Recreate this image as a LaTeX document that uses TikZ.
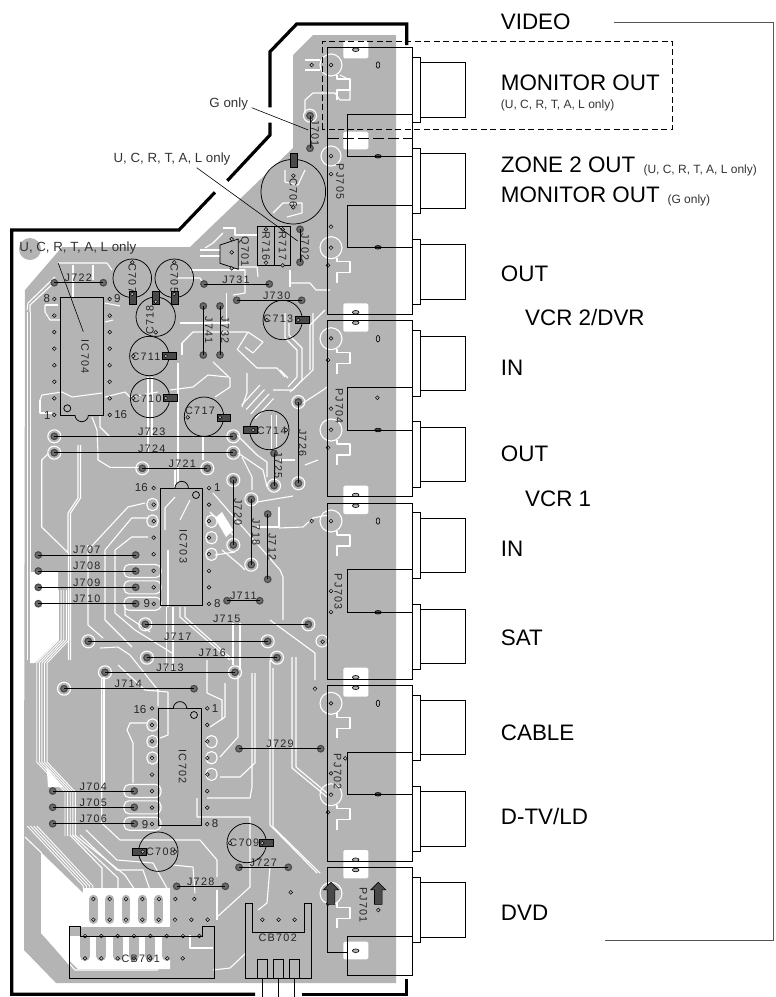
\documentclass[tikz,border=0pt]{standalone}
\usepackage{fontspec}
\setmainfont{Liberation Sans}
\newfontfamily\boardfont[LetterSpace=12]{Liberation Sans}
\usetikzlibrary{shapes.geometric}
\definecolor{boardgray}{HTML}{B4B4B4}
\definecolor{padgray}{HTML}{4A4A4A}
\definecolor{notegray}{HTML}{333333}
\definecolor{framegray}{HTML}{555555}
\newcommand{\bigsize}{\fontsize{22.4}{24}\selectfont}
\newcommand{\smallsize}{\fontsize{12}{14}\selectfont}
\begin{document}
\begin{tikzpicture}
    [x=1pt,y=-1pt,
    track/.style={white,line width=1.1pt,line join=round},
    outline/.style={black,line width=3.2pt,line join=miter},
    part/.style={black,line width=0.75pt},
    jack/.style={black,line width=0.85pt},
    hole/.style={circle,draw=black,line width=0.5pt,fill=boardgray,minimum size=3.8pt,inner sep=0pt},
    jpad/.style={circle,draw=padgray,line width=1.2pt,fill=boardgray!60!black,minimum size=6.5pt,inner sep=0pt},
    slot/.style={ellipse,draw=black,line width=0.6pt,fill=boardgray,inner sep=0pt},
    slotv/.style={slot,minimum width=3.6pt,minimum height=6.6pt},
    sloth/.style={slot,minimum width=6.6pt,minimum height=3.6pt},
    slotd/.style={slot,fill=padgray,minimum width=6.6pt,minimum height=3.6pt},
    bandv/.style={draw=black,fill=padgray,minimum width=7pt,minimum height=13.5pt,inner sep=0pt},
    bandh/.style={draw=black,fill=padgray,minimum width=13.5pt,minimum height=7pt,inner sep=0pt},
    boardtext/.style={font=\boardfont\fontsize{10.8}{12}\selectfont,inner sep=0pt,text=black!85},
    pinnum/.style={font=\fontsize{11.5}{12}\selectfont,inner sep=0pt,text=black!85},
    note/.style={font=\fontsize{13.3}{15}\selectfont,inner sep=0pt,text=notegray},
    biglabel/.style={font=\bigsize,anchor=base west,inner sep=0pt},
    smalllabel/.style={font=\smallsize,anchor=base west,inner sep=0pt,text=notegray},
    leader/.style={black,line width=0.6pt}]

    \useasboundingbox (0,0) rectangle (776,997);

    % drawing the board
    \fill[boardgray] (313,35) -- (396,35) -- (396,983) -- (56,983) -- (24,950) -- (24,837)
        -- (25,290) -- (62,247) -- (190,247) -- (293,148) -- (293,55) -- cycle;
    \fill[boardgray] (30,249) circle (11);

    % drawing the white patches
    \foreach \ya/\yb in {40.7/58.3,131.7/149.3,303.3/331.7,485.7/514,667.7/696.7,850/878.3,941.7/959.3}
        \fill[white,rounded corners=1.5pt] (343.3,\ya) rectangle (368.3,\yb);
    \fill[white] (30,572) -- (58,572) -- (58,640) -- (35,663) -- (30,663) -- cycle;
    \fill[white] (46.7,768) -- (63,787) -- (48,787) -- cycle;
    \fill[white] (41.7,853) -- (83,893) -- (83,927) -- (69,927) -- (69,965) -- (41.7,933) -- cycle;
    \fill[white] (83,888) -- (170,888) -- (170,927) -- (83,927) -- cycle;
    \fill[white] (69,936) -- (170,936) -- (170,969) -- (78,969) -- (69,960) -- cycle;
    \fill[white] (215,518) -- (222,512) -- (233,530) -- (226,537) -- cycle;

    % drawing the copper under the connectors
    \foreach \i in {0,...,5}
        \draw[boardgray,line width=8.5pt,line cap=round] ({93.3+16.35*\i},899) -- ({93.3+16.35*\i},919.7);
    \foreach \i in {0,...,5}
        \draw[boardgray,line width=10pt,line cap=round] ({85+16.35*\i},938) -- ({85+16.35*\i},956);

    % drawing the tracks on the left side
    \draw[track] (27.7,312) -- (27.7,660);
    \draw[track] (30.5,312) -- (30.5,572);
    \draw[track] (27,310) -- (28,303) -- (55,277);
    \draw[track] (30,312) -- (30,305) -- (57,280);
    \draw[track] (58,263) -- (107,263) -- (112,270);
    \draw[track] (73,265) -- (73,297);
    \draw[track] (93,265) -- (93,280);
    \draw[track] (45,305) -- (58,305);
    \draw[track] (45,305) -- (45,312) -- (50,320) -- (60,320);
    \draw[track] (105,303) -- (120,306);
    \draw[track] (105,322) -- (113,320);
    \draw[track] (40,400) -- (42,395) -- (62,392) -- (72,397) -- (102,393);
    \draw[track] (40,400) -- (40,413) -- (52,413);
    \draw[track] (105,397) -- (125,392) -- (130,397) -- (158,392);
    \draw[track] (100,415) -- (100,427) -- (110,437);
    \draw[track] (92,417) -- (97,430) -- (98,453) -- (98,460) -- (110,467.3) -- (140,467.3);
    \draw[track] (41.7,460) -- (41.7,527) -- (68.3,553) -- (68.3,660);
    \draw[track] (41.7,460) -- (48,454);
    \draw[track] (78,445) -- (78,498) -- (68,513) -- (68,553);
    \draw[track] (80.5,445) -- (80.5,498) -- (70.5,513) -- (70.5,660);
    \draw[track] (88,545) -- (88,550) -- (128,507) -- (145,503);
    \draw[track] (88,545) -- (88,625) -- (103,638);
    \draw[track] (105,550) -- (105,620) -- (132,647);
    \draw[track] (105,550) -- (131.7,518) -- (148,518);
    \draw[track] (115,550) -- (115,613) -- (135,630) -- (172,653);
    \draw[track] (115,550) -- (131.7,537) -- (148,537);
    \foreach \i in {0,...,4}
        \draw[track,line width=0.9pt] ({58.5+2.6*\i},590) -- ({58.5+2.6*\i},640) -- ({36.7+2.6*\i},663)
            -- ({36.7+2.6*\i},762) -- ({65+2.6*\i},792) -- ({65+2.6*\i},836);
    \foreach \i in {0,...,3}
        \draw[track,line width=0.9pt] ({27.3+3.2*\i},826) -- ({83.3+3.2*\i},886) -- ({83.3+3.2*\i},893);
    \draw[track] (70,835) -- (102,868) -- (102,890);
    \draw[track] (72.5,835) -- (118,878) -- (118,890);
    \draw[track] (75,835) -- (125,875) -- (135,890);
    \draw[track] (80,835) -- (117,870) -- (143,870) -- (150,890);
    \draw[track] (86,830) -- (117,860) -- (153,863) -- (168,890);
    \draw[track] (25,837) -- (41.7,853) -- (41.7,933) -- (75,970) -- (157,970) -- (165,962);
    \draw[track] (101.7,677) -- (101.7,823) -- (120,840);
    \draw[track] (104,677) -- (104,787);
    \draw[track] (127,730) -- (130,723) -- (147,723);
    \draw[track] (127,730) -- (133,743) -- (133,783);
    \draw[track] (120,840) -- (200,840) -- (217,860) -- (217,877);
    \draw[track] (125,605) -- (125,615) -- (150,632);
    \draw[track] (100,648) -- (118,647) -- (130,655) -- (158,690) -- (158,706);
    \draw[track] (118,665) -- (145,690) -- (168,692) -- (168,735) -- (160,738);

    % drawing the tracks in the middle
    \draw[track] (148,377) -- (148,453);
    \draw[track] (152,377) -- (152,437);
    \draw[track] (178,363) -- (178,487);
    \draw[track] (182,343) -- (182,355);
    \draw[track] (175,470) -- (175,487);
    \draw[track] (203,437) -- (203,460);
    \draw[track] (180,323) -- (230,323);
    \draw[track] (190,270) -- (245,270);
    \draw[track] (178,278) -- (200,278) -- (204,285);
    \draw[track] (226.7,293) -- (226.7,323);
    \draw[track] (223,228) -- (235,228) -- (235,235) -- (257,235);
    \draw[track] (205,248) -- (213,243) -- (223,233);
    \draw[track] (200,250) -- (220,250);
    \draw[track] (200,256) -- (220,256);
    \draw[track] (238,267) -- (257,267) -- (258,277);
    \draw[track] (195,270) -- (245,270) -- (245,293) -- (233,295);
    \draw[track] (247,332) -- (193,332) -- (182,343);
    \draw[track] (237,350) -- (248,332) -- (263,342) -- (253,353) -- (245,347);
    \draw[track] (238,350) -- (257,368) -- (277,368) -- (285,377);
    \draw[track] (280,370) -- (288,378);
    \draw[track] (213,362) -- (230,378) -- (230,387) -- (215,397);
    \draw[track] (208,375) -- (193,387) -- (170,390);
    \draw[track] (208,375) -- (228,377);
    \draw[track] (247,373) -- (247,393) -- (242,407);
    \foreach \i in {0,...,3}
        \draw[track] ({241.7+4.5*\i},{405+4.5*\i}) -- ({260+4.5*\i},{385+4.5*\i});
    \draw[track] (285,313) -- (285,338) -- (297,350) -- (297,377) -- (288,387);
    \draw[track] (289,323) -- (289,335) -- (302,348) -- (302,380) -- (293,390) -- (273,390);
    \draw[track] (313,313) -- (313,370) -- (290,392);
    \draw[track] (325,310) -- (310,325) -- (310,370);
    \draw[track] (290,270) -- (290,287);
    \draw[track] (290,283) -- (310,283) -- (316,290) -- (330,290);
    \draw[track] (303,403) -- (323,390) -- (327,387);
    \draw[track] (271.7,415) -- (271.7,450);
    \draw[track] (276.7,415) -- (276.7,447);
    \draw[track] (237,435) -- (257,455) -- (267,462) -- (267,477);
    \draw[track] (238,453) -- (263,470) -- (267,487);
    \draw[track] (242,457) -- (252,477) -- (252,490);
    \draw[track] (305,465) -- (318,460);
    \draw[track] (280,460) -- (295,460);
    \draw[track] (293,496) -- (257,502);
    \draw[track] (279,507) -- (279,527) -- (257,527);
    \draw[track] (279,528) -- (303,527) -- (313,518) -- (328,515);
    \draw[track] (213,493) -- (280,570) -- (283,577) -- (283,620);
    \draw[track] (210,512) -- (233,535);
    \draw[track] (222,550) -- (240,565) -- (245,570);
    \draw[track] (215,555) -- (235,552);
    \draw[track] (168,550) -- (168,607);
    \draw[track] (175,497) -- (165,508) -- (165,530);
    \draw[track] (190,500) -- (180,520);
    \draw[track] (166.7,607) -- (166.7,670);
    \draw[track] (173,607) -- (173,670);
    \draw[track] (180,607) -- (180,617) -- (230,660);
    \draw[track] (185,607) -- (185,617) -- (233,660);
    \draw[track] (233,623) -- (233,665);
    \draw[track] (240,623) -- (240,670);
    \draw[track] (270,620) -- (315,653) -- (315,680);
    \draw[track] (292,657) -- (292,768) -- (327,797);
    \draw[track] (296,657) -- (296,767) -- (327,793);
    \draw[track] (273,668) -- (273,827) -- (320,873);
    \draw[track] (270,660) -- (270,825) -- (317,873);
    \draw[track] (238,675) -- (238,737) -- (220,757);
    \draw[track] (255,673) -- (255,763) -- (240,777) -- (220,777);
    \draw[track] (252,673) -- (252,787) -- (250,798) -- (207,798);
    \draw[track] (197,798) -- (197,817) -- (250,817) -- (250,887) -- (217,917);
    \draw[track] (225,683) -- (225,717) -- (210,727);
    \draw[track] (207,660) -- (207,693) -- (222,700) -- (222,720);
    \draw[track] (173,865) -- (193,867) -- (195,893);
    \draw[track] (217,890) -- (217,920);
    \draw[track] (213,970) -- (230,968) -- (246,953);
    \draw[track] (258,910) -- (267,903) -- (270,867);
    \draw[track] (190,935) -- (190,948) -- (213,948);

    % drawing the pad outlines round the jacks
    \foreach \x/\y in {331/65,331/247.7,331/338.7,331/430,331/521,331/703.3,331/794.7,331/893.3}{
        \draw[track] (\x,\y) circle (11);
        \draw[track,shift={(\x,\y)}] (6,10) -- (6,14) -- (19,14) -- (19,25) -- (6,25) -- (6,35);
    }
    \draw[track] (331,156) circle (10);
    \draw[track] (305,113) -- (305,100) -- (313,93) -- (335,93) -- (340,100) -- (350,100) -- (350,80) -- (340,75);
    \draw[track] (305,60) -- (320,60);
    \draw[track] (305,70) -- (320,70);
    \draw[track] (285,170) -- (285,182) -- (298,185) -- (305,170);
    \draw[track] (273,213) -- (283,203) -- (302,203) -- (302,213) -- (287,217);
    \draw[track] (322,641) circle (6);

    % drawing the pin outlines
    \foreach \x/\y in {132/571,132/587.3,132/603.7,132/791,132/807.3,132/823.7}
        \draw[track,rounded corners=5pt] ({\x-8},{\y-6.5}) rectangle ({\x+29},{\y+6.5});
    \foreach \x/\y in {147/504.5,147/521,147/725,147/741.5,147/758,206/741.7,206/757.7,206/774.3,206/521.3,206/537.7,206/554.3}
        \draw[track,rounded corners=5pt] (\x,{\y-6}) rectangle ({\x+11},{\y+6});

    % drawing the halos round the jumper pads
    \foreach \x/\y in {54.3/436.3,54.3/452.7,233.3/436.3,233.3/452.7,142.3/468.3,207.3/468.3,233.3/480,
        251.3/499.3,274/485.7,298.3/483.3,298.3/402,233.3/545,251.3/564.7,145.3/624.3,308.3/624.3,
        88.3/641.3,267.7/641.3,147/657.7,277/657.7,105/672.3,235/672.3,64/688.7,310/115.7}
        \draw[track] (\x,\y) circle (6.5);

    % drawing the jumpers
    \foreach \n/\xa/\ya/\xb/\yb/\lx/\ly/\rot in {
        J701/310/115.7/310/148.3/315/133.3/-90,
        J702/300/229.3/300/262.3/305/246.7/-90,
        J722/54.3/282.7/103.3/282.7/78.3/277.7/0,
        J731/204/284/269.3/284/236/279.3/0,
        J730/236.7/300.3/301.7/300.3/276.7/295.7/0,
        J741/203.3/306/203.3/355/208.7/330/-90,
        J732/220/306/220/355/225/330/-90,
        J723/54.3/436.3/233.3/436.3/151.7/431.7/0,
        J724/54.3/452.7/233.3/452.7/151.7/448.3/0,
        J721/142.3/468.3/207.3/468.3/182.3/464/0,
        J726/298.3/402/298.3/483.3/302.7/442.7/-90,
        J725/274/453.3/274/485.7/278.3/465/-90,
        J720/233.3/480/233.3/545/238/511.7/-90,
        J718/251.3/499.3/251.3/564.7/256/531.7/-90,
        J712/267.7/514/267.7/579.3/272.3/546.7/-90,
        J707/38.3/555/135.7/555/86.7/550/0,
        J708/38.3/571/135.7/571/86.7/566/0,
        J709/38.3/587.3/135.7/587.3/86.7/582.3/0,
        J710/38.3/603.7/135.7/603.7/86.7/598.7/0,
        J711/227/600.7/259.7/600.7/243.3/595.7/0,
        J715/145.3/624.3/308.3/624.3/226.7/619.3/0,
        J717/88.3/641.3/267.7/641.3/177.7/636.7/0,
        J716/147/657.7/277/657.7/212.3/652.7/0,
        J713/105/672.3/235/672.3/170/667.7/0,
        J714/64/688.7/194/688.7/128.3/684/0,
        J729/239/748.7/320.7/748.7/280/744/0,
        J704/52.7/791/134.3/791/93.3/786.3/0,
        J705/52.7/807.3/134.3/807.3/93.3/802.7/0,
        J706/52.7/823.7/134.3/823.7/93.3/819/0,
        J727/239/867.3/288.3/867.3/263.3/862.7/0,
        J728/176.7/886.3/225.3/886.3/200.7/881.7/0}{
        \node[jpad] (\n a) at (\xa,\ya) {};
        \node[jpad] (\n b) at (\xb,\yb) {};
        \draw[part,line width=0.9pt] (\n a.center) -- (\n b.center);
        \node[boardtext,rotate=\rot] (\n t) at (\lx,\ly) {\n};
    }

    % drawing the capacitors
    \foreach \n/\cx/\cy/\r/\lx/\ly/\rot in {
        C706/293.3/191.7/32.3/293.3/193/-90,
        C707/132.3/278.3/19.3/132.3/278.3/-90,
        C705/174.3/278.3/19.3/174.3/278.3/-90,
        C718/155.7/316.7/19.7/150/320/90,
        C713/282.7/320/19.7/278.3/319/0,
        C711/149.3/356/19.7/146/356.7/0,
        C710/150/398/19.7/146.7/398.3/0,
        C717/204/416.7/19.7/200/410.7/0,
        C714/269.3/430/19.7/271.7/430.7/0,
        C708/158.3/851.7/19.7/161/851.7/0,
        C709/246.7/843/19.7/244.3/843/0}{
        \node[circle,draw=black,line width=0.75pt,minimum size=2*\r pt,inner sep=0pt] (\n) at (\cx,\cy) {};
        \node[boardtext,rotate=\rot] (\n t) at (\lx,\ly) {\n};
    }
    \foreach \n/\s/\x/\y in {b706/bandv/293.3/160,b707/bandv/132.3/297.7,b718/bandv/155.7/297.7,b705/bandv/174.3/297.7,
        b713/bandh/302.3/320,b711/bandh/169/356,b710/bandh/170/398,b717/bandh/223.7/417.3,
        b714/bandh/250/430,b708/bandh/139/851.7,b709/bandh/266/843}
        \node[\s] (\n) at (\x,\y) {};

    % drawing the small parts
    \draw[part] (220,245) -- (238.3,239) -- (238.3,269.3) -- (220,263.3) -- cycle;
    \node[boardtext,rotate=-90] (Q701) at (244,251.7) {Q701};
    \draw[part] (257.7,226.7) rectangle (274,265.3);
    \draw[part] (274,226.7) rectangle (290.7,265.3);
    \node[boardtext,rotate=-90] (R716) at (266,246) {R716};
    \node[boardtext,rotate=-90] (R717) at (282.7,246) {R717};

    % drawing the chips
    \draw[part] (60.7,297.7) rectangle (103.3,415);
    \draw[part,fill=boardgray] (75,415) arc (180:0:6.7);
    \draw[part] (67.3,408.3) circle (3.5);
    \node[boardtext,rotate=-90] (IC704) at (85,356.7) {IC704};
    \draw[part] (160.7,488) rectangle (202.3,605.3);
    \draw[part,fill=boardgray] (175,488) arc (180:360:6.7);
    \draw[part] (196,495) circle (3.5);
    \node[boardtext,rotate=-90] (IC703) at (183.3,546) {IC703};
    \draw[part] (158.7,708.3) rectangle (201,825.3);
    \draw[part,fill=boardgray] (173.3,708.3) arc (180:360:6.7);
    \draw[part] (194,715) circle (3.5);
    \node[boardtext,rotate=-90] (IC702) at (182.7,766.7) {IC702};
    \foreach \i in {0,...,7}{
        \node[hole] (ua\i) at (54.3,{299+\i*16.55}) {};
        \node[hole] (ub\i) at (109.7,{299+\i*16.55}) {};
        \node[hole] (va\i) at (153.7,{488+\i*16.55}) {};
        \node[hole] (vb\i) at (209,{488+\i*16.55}) {};
        \node[hole] (wa\i) at (152,{708.3+\i*16.55}) {};
        \node[hole] (wb\i) at (207.3,{708.3+\i*16.55}) {};
    }
    \foreach \n/\t/\x/\y in {p1/8/46.7/299,p2/9/117.3/299,p3/1/47.3/415.7,p4/16/120.7/415,
        p5/16/141.3/488,p6/1/217.3/487.3,p7/9/146.7/604,p8/8/217.3/603.3,
        p9/16/140/709.3,p10/1/215/708.3,p11/9/145/824.3,p12/8/215/824}
        \node[pinnum] (\n) at (\x,\y) {\t};

    % drawing the loose holes
    \foreach \x/\y in {311.7/65,331/65,331/156,331/174,331/226.7,331/247.7,328/265.3,
        331/338.3,328/360,331/408.7,331/429.7,328/447.7,377.3/397.7,
        311.7/521,331/521,331/591,331/612,322.7/641.7,
        315/688.7,331/703.3,345.3/758.3,331/773.3,331/794.7,328/812.3,
        328/903.7,378.3/910,290.7/892.3,
        293.3/175.7,293.3/207.3,132.3/262.3,132.3/294,174.3/262.3,174.3/294,
        155.7/301.7,155.7/332.3,266.7/320,298.3/320,133.3/356,165.7/356,133.3/398,165.7/398,
        187.7/417.3,220/417.3,286/430,253.3/430,175/851.7,142.7/851.7,230/843,262.3/843,
        231.7/239,231.7/252.3,231.7/268.3,266/229.3,266/262.7,282.7/229.3,282.7/265.3,
        262.3/919.7,278.7/919.7,294.7/919.7,
        85/936,101.3/936,117.7/936,134/936,150.3/936,166.7/936,183/936,199.3/936,
        93.3/919.7,109.7/919.7,126/919.7,142.3/919.7,158.7/919.7,175/919.7,191.3/919.7,207.7/919.7,
        93.3/899,109.7/899,126/899,142.3/899,159/899,175.3/899,194.3/899,
        85/958.3,101.3/958.3,117.7/958.3,134/958.3,150.3/958.3,167.3/958.3,182.7/958.3}
        \node[hole] at (\x,\y) {};
    \foreach \y in {65,338.7,521,703.3}
        \node[slotv] at (378,\y) {};
    \foreach \y in {49.7,312.3,322.7,495,505.7,677.3,687.7,859.7,870,950.7}
        \node[sloth] at (355.7,\y) {};
    \foreach \y in {156.3,247.3,430,612.3,794.3}
        \node[slotd] at (378,\y) {};

    % drawing the connectors at the bottom
    \draw[part,line width=0.85pt] (69,978.3) -- (69,926.7) -- (80.7,926.7) -- (80.7,936) -- (202.3,936)
        -- (202.3,926.7) -- (214,926.7) -- (214,978.3) -- cycle;
    \node[boardtext] (CB701) at (140.7,958.3) {CB701};
    \draw[part,line width=0.85pt] (245.7,978.3) -- (245.7,903.3) -- (252.3,903.3) -- (252.3,932.7) -- (304.3,932.7)
        -- (304.3,903.3) -- (311,903.3) -- (311,978.3) -- cycle;
    \node[boardtext] (CB702) at (277.7,937.7) {CB702};
    \foreach \x in {257,273.3,289.3}
        \draw[part,line width=0.85pt] (\x,959) rectangle ({\x+10.4},978.3);
    \foreach \x in {262.3,278.7,294.7}
        \draw[part] (\x,978.3) -- (\x,996.7);

    % drawing the jacks
    \foreach \t/\b in {47.7/314,320.7/496.7,503/679,685.3/861}
        \draw[jack] (327.3,\t) rectangle (412.7,\b);
    \foreach \t in {57.3,148.3,239.3,330.7,421.7,512.7,604,695,786.3,877.3}{
        \draw[jack] (412.7,\t) rectangle (420.7,{\t+65.3});
        \draw[jack] (420.7,{\t+5.4}) rectangle (465.7,{\t+59.7});
    }
    \foreach \a/\b in {114.3/156.3,205.3/247.3,387.3/430,569.7/612.3,752.3/794.3}
        \draw[jack] (412.7,\a) -- (347.3,\a) -- (347.3,\b) -- (412.7,\b);
    \draw[jack] (327.3,952.3) -- (327.3,867.7) -- (412.7,867.7) -- (412.7,975.3) -- (347.3,975.3) -- (347.3,936) -- (412.7,936);
    \draw[jack] (327.3,952.3) -- (347.3,952.3);
    \node[boardtext,rotate=-90] (PJ705) at (340,181.7) {PJ705};
    \node[boardtext,rotate=-90] (PJ704) at (339.3,406) {PJ704};
    \node[boardtext,rotate=-90] (PJ703) at (338.3,591.7) {PJ703};
    \node[boardtext,rotate=-90] (PJ702) at (337.7,771.7) {PJ702};
    \node[boardtext,rotate=-90] (PJ701) at (363.3,905) {PJ701};
    \foreach \x in {331,378.3}
        \draw[black,fill=padgray,line width=0.6pt,shift={(\x,893.3)}] (-3.8,11) -- (3.8,11) -- (3.8,-3.5)
            -- (7.5,-3.5) -- (0,-11) -- (-7.5,-3.5) -- (-3.8,-3.5) -- cycle;

    % drawing the dashed frame
    \draw[black,line width=0.7pt,dash pattern=on 6pt off 3.5pt] (322.3,129.3) -- (322.3,41.3) -- (672.7,41.3) -- (672.7,129.3) -- cycle;
    \draw[black,line width=0.7pt,dash pattern=on 11pt off 4pt] (328,138) -- (412.7,138);

    % drawing the thick outline
    \draw[outline] (270,107.3) -- (270,51.7) -- (296.7,24) -- (406.7,24) -- (406.7,45);
    \draw[outline] (270,122.7) -- (270,135) -- (227.3,180.7);
    \draw[outline] (215,192.3) -- (179,230) -- (11.7,230) -- (11.7,994.3) -- (255,994.3);
    \draw[outline] (301.7,994.3) -- (406.7,994.3) -- (406.7,979.3);

    % drawing the leaders
    \node[note] (gonly) at (228.7,104.3) {G only};
    \node[note] (uonly) at (172,158.7) {U, C, R, T, A, L only};
    \node[note] (uleft) at (77.8,248.3) {U, C, R, T, A, L only};
    \coordinate (gstart) at (251.7,107.7);
    \coordinate (gend) at (308.3,130);
    \coordinate (ustart) at (196.7,167.7);
    \coordinate (uend) at (297.7,241);
    \coordinate (lstart) at (58.3,263.3);
    \coordinate (lend) at (83.3,331.7);
    \draw[leader] (gstart) -- (gend);
    \draw[leader] (ustart) -- (uend);
    \draw[leader] (lstart) -- (lend);

    % drawing the labels on the right
    \node[biglabel] (video) at (500.7,29.3) {VIDEO};
    \node[biglabel] (monitor) at (500.7,90) {MONITOR OUT};
    \node[smalllabel] (monitornote) at (500.7,108.7) {(U, C, R, T, A, L only)};
    \node[biglabel] (zone) at (500.7,172.7) {ZONE 2 OUT};
    \node[smalllabel] (zonenote) at (643.3,173.3) {(U, C, R, T, A, L only)};
    \node[biglabel] (monitorb) at (500.7,202.7) {MONITOR OUT};
    \node[smalllabel] (gnote) at (667.3,203.3) {(G only)};
    \node[biglabel] (outa) at (500.7,281.7) {OUT};
    \node[biglabel] (vcrb) at (525,325) {VCR 2/DVR};
    \node[biglabel] (ina) at (500.7,375) {IN};
    \node[biglabel] (outb) at (500.7,461.7) {OUT};
    \node[biglabel] (vcra) at (525,506.7) {VCR 1};
    \node[biglabel] (inb) at (500.7,556.7) {IN};
    \node[biglabel] (sat) at (500.7,645.7) {SAT};
    \node[biglabel] (cable) at (500.7,740.7) {CABLE};
    \node[biglabel] (dtv) at (500.7,824) {D-TV/LD};
    \node[biglabel] (dvd) at (500.7,920) {DVD};

    % drawing the bracket
    \coordinate (bracketa) at (614.3,22.7);
    \coordinate (bracketb) at (605.3,940.7);
    \draw[framegray,line width=0.9pt] (bracketa) -- (773.7,22.7) -- (773.7,940.7) -- (bracketb);

\end{tikzpicture}
\end{document}
